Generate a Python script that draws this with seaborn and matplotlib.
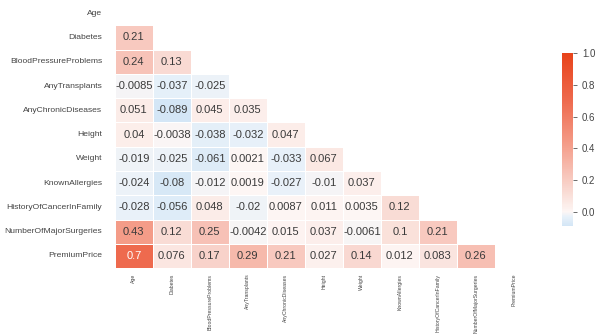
import numpy as np
import pandas as pd
import matplotlib
matplotlib.use("Agg")
import matplotlib.pyplot as plt
from matplotlib.colors import LinearSegmentedColormap
import seaborn as sns

features = ["Age", "Diabetes", "BloodPressureProblems", "AnyTransplants",
            "AnyChronicDiseases", "Height", "Weight", "KnownAllergies",
            "HistoryOfCancerInFamily", "NumberOfMajorSurgeries", "PremiumPrice"]

# Lower-triangle correlation coefficients, one list per row
row_diabetes = [0.21]
row_bp = [0.24, 0.13]
row_transplants = [-0.0085, -0.037, -0.025]
row_chronic = [0.051, -0.089, 0.045, 0.035]
row_height = [0.04, -0.0038, -0.038, -0.032, 0.047]
row_weight = [-0.019, -0.025, -0.061, 0.0021, -0.033, 0.067]
row_allergies = [-0.024, -0.08, -0.012, 0.0019, -0.027, -0.01, 0.037]
row_cancer = [-0.028, -0.056, 0.048, -0.02, 0.0087, 0.011, 0.0035, 0.12]
row_surgeries = [0.43, 0.12, 0.25, -0.0042, 0.015, 0.037, -0.0061, 0.1, 0.21]
row_premium = [0.7, 0.076, 0.17, 0.29, 0.21, 0.027, 0.14, 0.012, 0.083, 0.26]

lower_rows = [row_diabetes, row_bp, row_transplants, row_chronic, row_height,
              row_weight, row_allergies, row_cancer, row_surgeries, row_premium]

n = len(features)
corr_values = np.eye(n)
for i, row in enumerate(lower_rows, start=1):
    for j, v in enumerate(row):
        corr_values[i, j] = v
        corr_values[j, i] = v
corr = pd.DataFrame(corr_values, index=features, columns=features)

mask = np.triu(np.ones_like(corr, dtype=bool))

vmin = min(min(r) for r in lower_rows)
vmax = 1.0

# blue -> white -> orange-red ramp, anchored at correlation values
stops = [(-0.089, "#d4e6f6"), (-0.03, "#e8f1f9"), (0.0, "#fdf6f4"),
         (0.12, "#f9dcd5"), (0.24, "#f7c3b8"), (0.43, "#f49c88"),
         (0.7, "#ee6a4e"), (1.0, "#e8431a")]
cmap = LinearSegmentedColormap.from_list(
    "corr_ramp", [((v - vmin) / (vmax - vmin), c) for v, c in stops])

sns.set_theme(style="white")
plt.rcParams["font.family"] = ["Liberation Sans", "DejaVu Sans"]

fig = plt.figure(figsize=(5.98, 3.36), dpi=100)
ax = fig.add_axes([0.192, 0.202, 0.699, 0.795])
cax = fig.add_axes([0.940, 0.327, 0.018, 0.515])

sns.heatmap(corr, mask=mask, cmap=cmap, vmin=vmin, vmax=vmax, annot=True,
            annot_kws={"fontsize": 8, "color": "#3a3a3a"},
            linewidths=0.5, linecolor="white", ax=ax, cbar_ax=cax)

# white label on the darkest cell
for t in ax.texts:
    if t.get_text() == "0.7":
        t.set_color("white")

ax.tick_params(axis="y", labelsize=6.1, length=0, pad=9, rotation=0,
               labelcolor="#444444")
ax.tick_params(axis="x", labelsize=3.7, length=0, pad=4, rotation=90,
               labelcolor="#444444")
cax.tick_params(labelsize=7, length=3, width=0.6, color="#555555", right=True,
                labelcolor="#444444")

fig.savefig("out.png", dpi=100)
